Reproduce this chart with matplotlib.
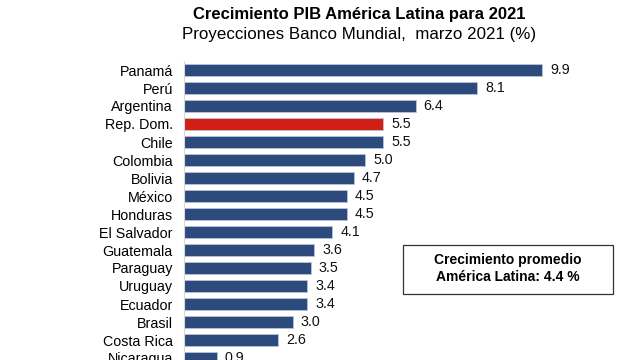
import matplotlib
matplotlib.use("Agg")
import matplotlib.pyplot as plt
from matplotlib.patches import Rectangle

countries = ["Panamá", "Perú", "Argentina", "Rep. Dom.", "Chile", "Colombia", "Bolivia",
             "México", "Honduras", "El Salvador", "Guatemala", "Paraguay", "Uruguay",
             "Ecuador", "Brasil", "Costa Rica", "Nicaragua"]
values = [9.9, 8.1, 6.4, 5.5, 5.5, 5.0, 4.7, 4.5, 4.5, 4.1, 3.6, 3.5, 3.4, 3.4, 3.0, 2.6, 0.9]
highlight = "Rep. Dom."

blue = "#2C4A7C"
red = "#D01F14"
colors = [red if c == highlight else blue for c in countries]

plt.rcParams['font.family'] = ['Liberation Sans', 'DejaVu Sans']

fig = plt.figure(figsize=(6.4, 3.6), dpi=100)
W, H = 640, 360
# axes in pixel coordinates
x0, x1 = 184, 184 + 362
y_top, y_bot = 61, 367
ax = fig.add_axes([x0 / W, (H - y_bot) / H, (x1 - x0) / W, (y_bot - y_top) / H])
ax.patch.set_alpha(0)

ypos = list(range(len(countries)))
ax.barh(ypos, values, height=0.72, color=colors, edgecolor="#B8C4D8", linewidth=0.6)
ax.set_xlim(0, 10)
ax.set_ylim(len(countries) - 0.5, -0.5)
ax.set_yticks(ypos)
ax.set_yticklabels(countries, fontsize=10.3)
ax.tick_params(axis='y', length=0, pad=8)
ax.set_xticks([])
for s in ["top", "right", "bottom"]:
    ax.spines[s].set_visible(False)
ax.spines["left"].set_color("#D9D9D9")
ax.spines["left"].set_linewidth(0.8)

for y, v in zip(ypos, values):
    ax.text(v + 0.22, y, f"{v:.1f}", va="center", ha="left", fontsize=10.3, color="#111111")

fig.text(359 / W, 1 - 15 / H, "Crecimiento PIB América Latina para 2021", ha="center",
         va="center", fontsize=12, fontweight="bold")
fig.text(359 / W, 1 - 34 / H, "Proyecciones Banco Mundial,  marzo 2021 (%)", ha="center",
         va="center", fontsize=12.2)

# annotation box
bx0, bx1, by0, by1 = 403, 613, 245, 294
fig.patches.append(Rectangle((bx0 / W, 1 - by1 / H), (bx1 - bx0) / W, (by1 - by0) / H,
                             transform=fig.transFigure, fill=False, edgecolor="#333333",
                             linewidth=0.9))
fig.text((bx0 + bx1) / 2 / W, 1 - 260 / H, "Crecimiento promedio", ha="center", va="center",
         fontsize=10, fontweight="bold")
fig.text((bx0 + bx1) / 2 / W, 1 - 277 / H, "América Latina: 4.4 %", ha="center", va="center",
         fontsize=10, fontweight="bold")

fig.savefig("out.png", dpi=100)
